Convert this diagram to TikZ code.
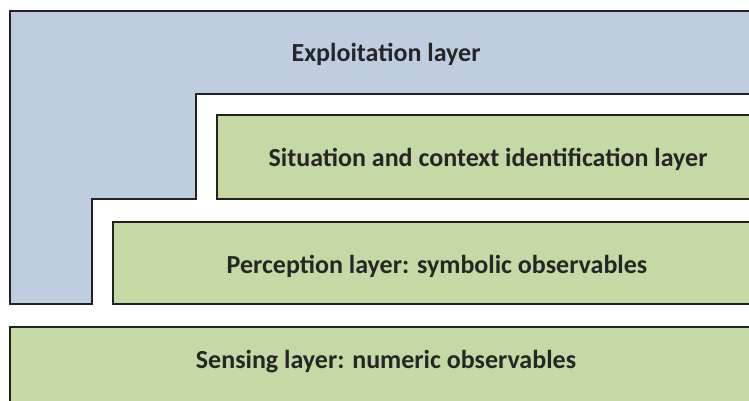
\documentclass[tikz,border=0pt]{standalone}
\usepackage{fontspec}
\setmainfont{Carlito}
\definecolor{exploitblue}{RGB}{190,206,224}
\definecolor{layergreen}{RGB}{196,217,163}
\definecolor{edgegray}{RGB}{34,34,34}
\definecolor{textgray}{RGB}{38,38,38}
\begin{document}
\begin{tikzpicture}[x=1pt,y=-1pt,
  layerbox/.style={draw=edgegray,line width=1.8pt,fill=layergreen},
  layerlabel/.style={text=textgray,font=\fontsize{26}{30}\selectfont\bfseries,inner sep=0pt},
  line join=miter]
  \useasboundingbox (0,0) rectangle (749,401);
  \clip (0,0) rectangle (749,401);
  % exploitation layer: stepped outline wrapping the inner layers
  \draw[draw=edgegray,line width=1.8pt,fill=exploitblue]
    (10,11) -- (770,11) -- (770,94) -- (196,94) -- (196,199)
    -- (92,199) -- (92,304) -- (10,304) -- cycle;
  % inner layers, running past the right edge
  \draw[layerbox] (217,115) rectangle (770,199);
  \draw[layerbox] (113,222) rectangle (770,304);
  \draw[layerbox] (10,327) rectangle (770,420);
  % labels
  \node[layerlabel] (exploit) at (386,54) {Exploitation layer};
  \node[layerlabel] (situation) at (488,159) {Situation and context identification layer};
  \node[layerlabel] (perception) at (437,266) {Perception layer: symbolic observables};
  \node[layerlabel] (sensing) at (386,362) {Sensing layer: numeric observables};
\end{tikzpicture}
\end{document}
